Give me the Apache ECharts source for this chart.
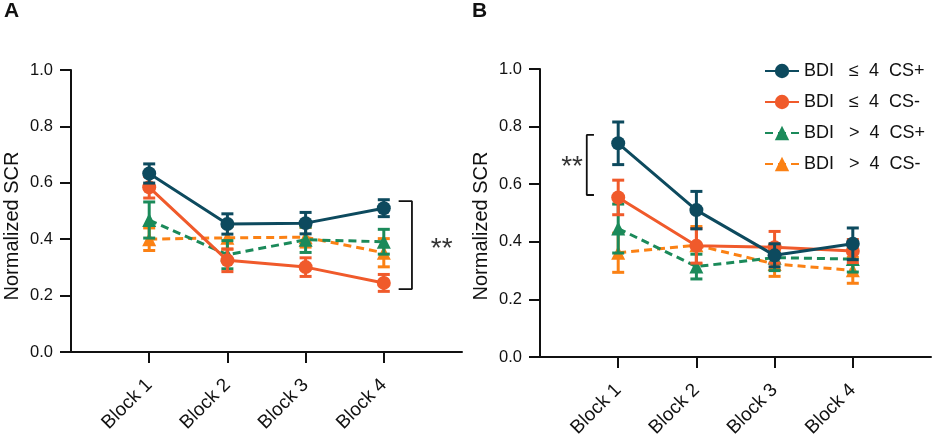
<!DOCTYPE html>
<html><head><meta charset="utf-8">
<script src="https://cdn.jsdelivr.net/npm/echarts@6/dist/echarts.min.js"></script>
<style>html,body{margin:0;padding:0;background:#fff}#c{width:935px;height:446px}</style>
</head><body><div id="c"></div>
<script>
// ---------- data ----------
const categories = ['Block 1', 'Block 2', 'Block 3', 'Block 4'];
const yTicks = [0, 0.2, 0.4, 0.6, 0.8, 1.0];
const seriesNames = ['BDI   \u2264  4  CS+', 'BDI   \u2264  4  CS-', 'BDI   >  4  CS+', 'BDI   >  4  CS-'];

// Panel A
const aLowCSplusMean  = [0.633, 0.454, 0.457, 0.510];
const aLowCSplusErr   = [0.034, 0.036, 0.038, 0.030];
const aLowCSminusMean = [0.584, 0.325, 0.301, 0.245];
const aLowCSminusErr  = [0.038, 0.040, 0.033, 0.030];
const aHighCSplusMean = [0.468, 0.345, 0.398, 0.391];
const aHighCSplusErr  = [0.064, 0.050, 0.045, 0.044];
const aHighCSminusMean= [0.400, 0.405, 0.407, 0.352];
const aHighCSminusErr = [0.040, 0.040, 0.035, 0.050];

// Panel B
const bLowCSplusMean  = [0.742, 0.510, 0.353, 0.393];
const bLowCSplusErr   = [0.074, 0.065, 0.040, 0.055];
const bLowCSminusMean = [0.554, 0.386, 0.381, 0.368];
const bLowCSminusErr  = [0.060, 0.060, 0.055, 0.040];
const bHighCSplusMean = [0.446, 0.314, 0.345, 0.340];
const bHighCSplusErr  = [0.085, 0.043, 0.045, 0.045];
const bHighCSminusMean= [0.362, 0.388, 0.323, 0.301];
const bHighCSminusErr = [0.068, 0.065, 0.043, 0.045];

const panelLabels = ['A', 'B'];
const sigLabel = '**';
const yAxisTitle = 'Normalized SCR';

// ---------- styling ----------
const colors = ['#0d4a5e', '#f05a2b', '#1b8a5a', '#fb8114'];
const FONT = "'Liberation Sans', Arial, sans-serif";
const INK = '#111';

const chart = echarts.init(document.getElementById('c'));

const grids = [
  { left: 71, right: 473, top: 70, bottom: 94 },
  { left: 540, right: 4, top: 69, bottom: 89 }
];

function xAxisFor(i) {
  return {
    type: 'value', gridIndex: i, min: 0, max: 5, interval: 1,
    axisLine: { show: true, onZero: false, lineStyle: { color: INK, width: 2 } },
    axisTick: { show: true, customValues: [1, 2, 3, 4], length: 11, lineStyle: { color: INK, width: 2 } },
    axisLabel: {
      customValues: [1, 2, 3, 4], rotate: 45, margin: 30, fontSize: 19, color: INK, fontFamily: FONT,
      formatter: v => categories[Math.round(v) - 1] || ''
    },
    splitLine: { show: false }
  };
}
function yAxisFor(i) {
  return {
    type: 'value', gridIndex: i, min: 0, max: 1, interval: 0.2,
    axisLine: { show: true, onZero: false, lineStyle: { color: INK, width: 2 } },
    axisTick: { show: true, length: 11, lineStyle: { color: INK, width: 2 } },
    axisLabel: { margin: 18, fontSize: 16.5, color: INK, fontFamily: FONT, formatter: v => v.toFixed(1) },
    splitLine: { show: false }
  };
}

function errSeries(i, mean, err, color, z) {
  return {
    type: 'custom', gridIndex: i, xAxisIndex: i, yAxisIndex: i, silent: true, z: z,
    data: categories.map((c, k) => [k + 1, mean[k] - err[k], mean[k] + err[k]]),
    encode: { x: 0, y: [1, 2] },
    renderItem: function (params, api) {
      const x = api.value(0);
      const lo = api.coord([x, api.value(1)]);
      const hi = api.coord([x, api.value(2)]);
      const hw = 6;
      const st = { stroke: color, lineWidth: 3 };
      return {
        type: 'group', children: [
          { type: 'line', shape: { x1: lo[0], y1: lo[1], x2: hi[0], y2: hi[1] }, style: st },
          { type: 'line', shape: { x1: lo[0] - hw, y1: lo[1], x2: lo[0] + hw, y2: lo[1] }, style: st },
          { type: 'line', shape: { x1: hi[0] - hw, y1: hi[1], x2: hi[0] + hw, y2: hi[1] }, style: st }
        ]
      };
    }
  };
}
function lineSeries(i, name, mean, color, dashed, symbol, z) {
  return {
    type: 'line', name: name, xAxisIndex: i, yAxisIndex: i, z: z,
    data: categories.map((c, k) => [k + 1, mean[k]]),
    symbol: symbol, symbolSize: 14, showAllSymbol: true,
    lineStyle: { color: color, width: 3, type: dashed ? [8, 5] : 'solid' },
    itemStyle: { color: color, borderWidth: 0 },
    emphasis: { disabled: true }
  };
}

function panelSeries(i, m) {
  return [
    errSeries(i, m[3][0], m[3][1], colors[3], 2),
    lineSeries(i, seriesNames[3], m[3][0], colors[3], true, 'triangle', 2),
    errSeries(i, m[2][0], m[2][1], colors[2], 3),
    lineSeries(i, seriesNames[2], m[2][0], colors[2], true, 'triangle', 3),
    errSeries(i, m[1][0], m[1][1], colors[1], 4),
    lineSeries(i, seriesNames[1], m[1][0], colors[1], false, 'circle', 4),
    errSeries(i, m[0][0], m[0][1], colors[0], 5),
    lineSeries(i, seriesNames[0], m[0][0], colors[0], false, 'circle', 5)
  ];
}

const seriesA = panelSeries(0, [
  [aLowCSplusMean, aLowCSplusErr], [aLowCSminusMean, aLowCSminusErr],
  [aHighCSplusMean, aHighCSplusErr], [aHighCSminusMean, aHighCSminusErr]
]);
const seriesB = panelSeries(1, [
  [bLowCSplusMean, bLowCSplusErr], [bLowCSminusMean, bLowCSminusErr],
  [bHighCSplusMean, bHighCSplusErr], [bHighCSminusMean, bHighCSminusErr]
]);

// significance brackets (annotation, in data coordinates)
function bracketSeries(i, pts) {
  return {
    type: 'line', xAxisIndex: i, yAxisIndex: i, silent: true, z: 1,
    data: pts, symbol: 'none', lineStyle: { color: INK, width: 1.8 }, emphasis: { disabled: true }
  };
}
function starSeries(i, pt) {
  return {
    type: 'scatter', xAxisIndex: i, yAxisIndex: i, silent: true, symbolSize: 0,
    data: [pt],
    label: { show: true, position: 'inside', formatter: sigLabel, fontSize: 28, color: '#000', fontFamily: FONT }
  };
}

chart.setOption({
  animation: false,
  backgroundColor: '#fff',
  textStyle: { fontFamily: FONT },
  grid: grids,
  xAxis: [xAxisFor(0), xAxisFor(1)],
  yAxis: [yAxisFor(0), yAxisFor(1)],
  legend: {
    data: seriesNames, orient: 'vertical', left: 764, top: 62, padding: 0,
    itemWidth: 34, itemHeight: 18, itemGap: 13,
    textStyle: { fontSize: 18, color: INK, fontFamily: FONT }
  },
  series: [].concat(
    seriesA, seriesB,
    bracketSeries(0, [[4.19, 0.535], [4.36, 0.535], [4.36, 0.223], [4.19, 0.223]]),
    starSeries(0, [4.74, 0.365]),
    bracketSeries(1, [[0.69, 0.771], [0.598, 0.771], [0.598, 0.5625], [0.69, 0.5625]]),
    starSeries(1, [0.41, 0.66])
  ),
  graphic: [
    { type: 'text', left: 4, top: 1, style: { text: panelLabels[0], font: "bold 21px " + FONT, fill: '#111' } },
    { type: 'text', left: 472, top: 1, style: { text: panelLabels[1], font: "bold 21px " + FONT, fill: '#111' } },
    { type: 'text', x: 12, y: 226, rotation: Math.PI / 2,
      style: { text: yAxisTitle, font: "20px " + FONT, fill: INK, align: 'center', verticalAlign: 'middle' } },
    { type: 'text', x: 481, y: 226, rotation: Math.PI / 2,
      style: { text: yAxisTitle, font: "20px " + FONT, fill: INK, align: 'center', verticalAlign: 'middle' } }
  ]
});
</script>
</body></html>
